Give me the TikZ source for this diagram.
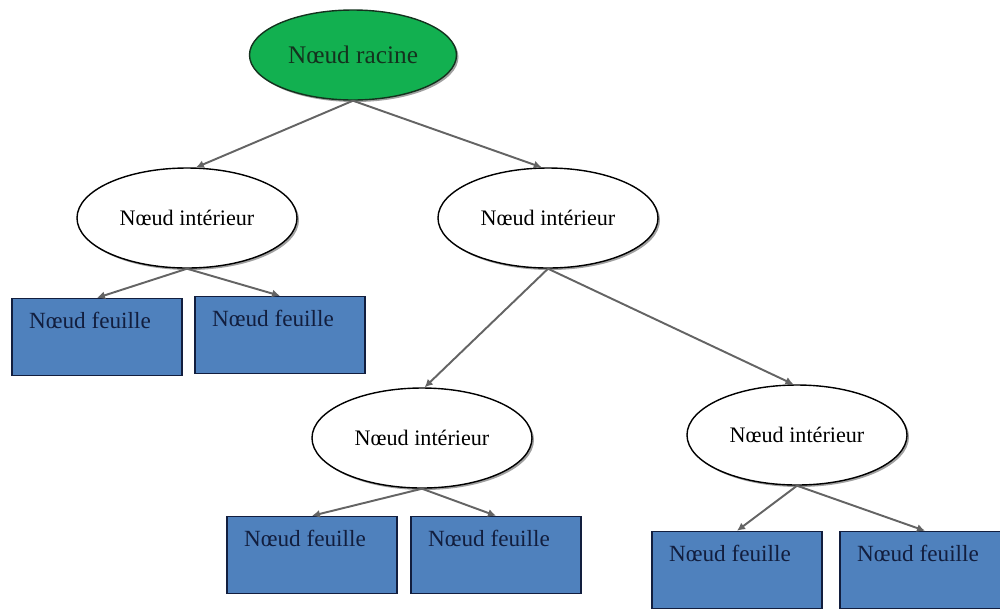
\documentclass[tikz,border=0pt]{standalone}
\usepackage{fontspec}
\setmainfont{Liberation Serif}
\usetikzlibrary{shapes.geometric,shadows,arrows.meta}
\definecolor{racinevert}{RGB}{18,176,80}
\definecolor{racinebord}{RGB}{20,50,30}
\definecolor{feuillebleu}{RGB}{79,129,189}
\definecolor{feuillebord}{RGB}{18,30,62}
\definecolor{arcgris}{RGB}{100,100,100}
\newcommand{\noeudint}[2]{
	\node [interieur] (#1) at (#2) {Nœud intérieur};}
\newcommand{\noeudfeuille}[2]{
	\node [feuille] (#1) at (#2) {Nœud feuille\kern2.8mm\relax};}

\begin{document}
\begin{tikzpicture}[x=0.2mm,y=-0.2mm,>={Latex[length=1.6mm,width=1.6mm]},
	ombre/.style={drop shadow={shadow xshift=0.4mm,shadow yshift=-0.4mm,opacity=0.75}},
	racine/.style={draw=racinebord, thick, fill=racinevert, ellipse, ombre, minimum width=41.4mm, minimum height=18mm, inner sep=0pt, font=\fontsize{14.4}{16}\selectfont, text=racinebord},
	interieur/.style={draw, thick, fill=white, ellipse, ombre, minimum width=44mm, minimum height=20mm, inner sep=0pt, font=\fontsize{12.6}{14}\selectfont},
	feuille/.style={draw=feuillebord, thick, fill=feuillebleu, rectangle, minimum width=34mm, text height=6mm, text depth=9.4mm, inner ysep=0pt, font=\fontsize{13.2}{15}\selectfont, text=feuillebord},
	arc/.style={->, draw=arcgris, line width=1.1pt}]
	\useasboundingbox (0,0) rectangle (1000,608);
	% noeuds
	\node [racine] (rac) at (353,55) {Nœud racine};
	\noeudint{int1}{187,218}
	\noeudint{int2}{548,218}
	\noeudint{int3}{422,438}
	\noeudint{int4}{797,435}
	\noeudfeuille{f1}{97,337}
	\noeudfeuille{f2}{280,335}
	\noeudfeuille{f3}{312,555}
	\noeudfeuille{f4}{496,555}
	\noeudfeuille{f5}{737,570}
	\noeudfeuille{f6}{925,570}
	% arcs
	\draw [arc] (rac.south) -- (int1.80);
	\draw [arc] (rac.south) -- (int2.97);
	\draw [arc] (int1.south) -- (f1.north);
	\draw [arc] (int1.south) -- (f2.north);
	\draw [arc] (int2.south) -- (int3.87);
	\draw [arc] (int2.south) -- (int4.94);
	\draw [arc] (int3.south) -- (f3.north);
	\draw [arc] (int3.south) -- (f4.north);
	\draw [arc] (int4.south) -- (f5.north);
	\draw [arc] (int4.south) -- (f6.north);
\end{tikzpicture}
\end{document}
